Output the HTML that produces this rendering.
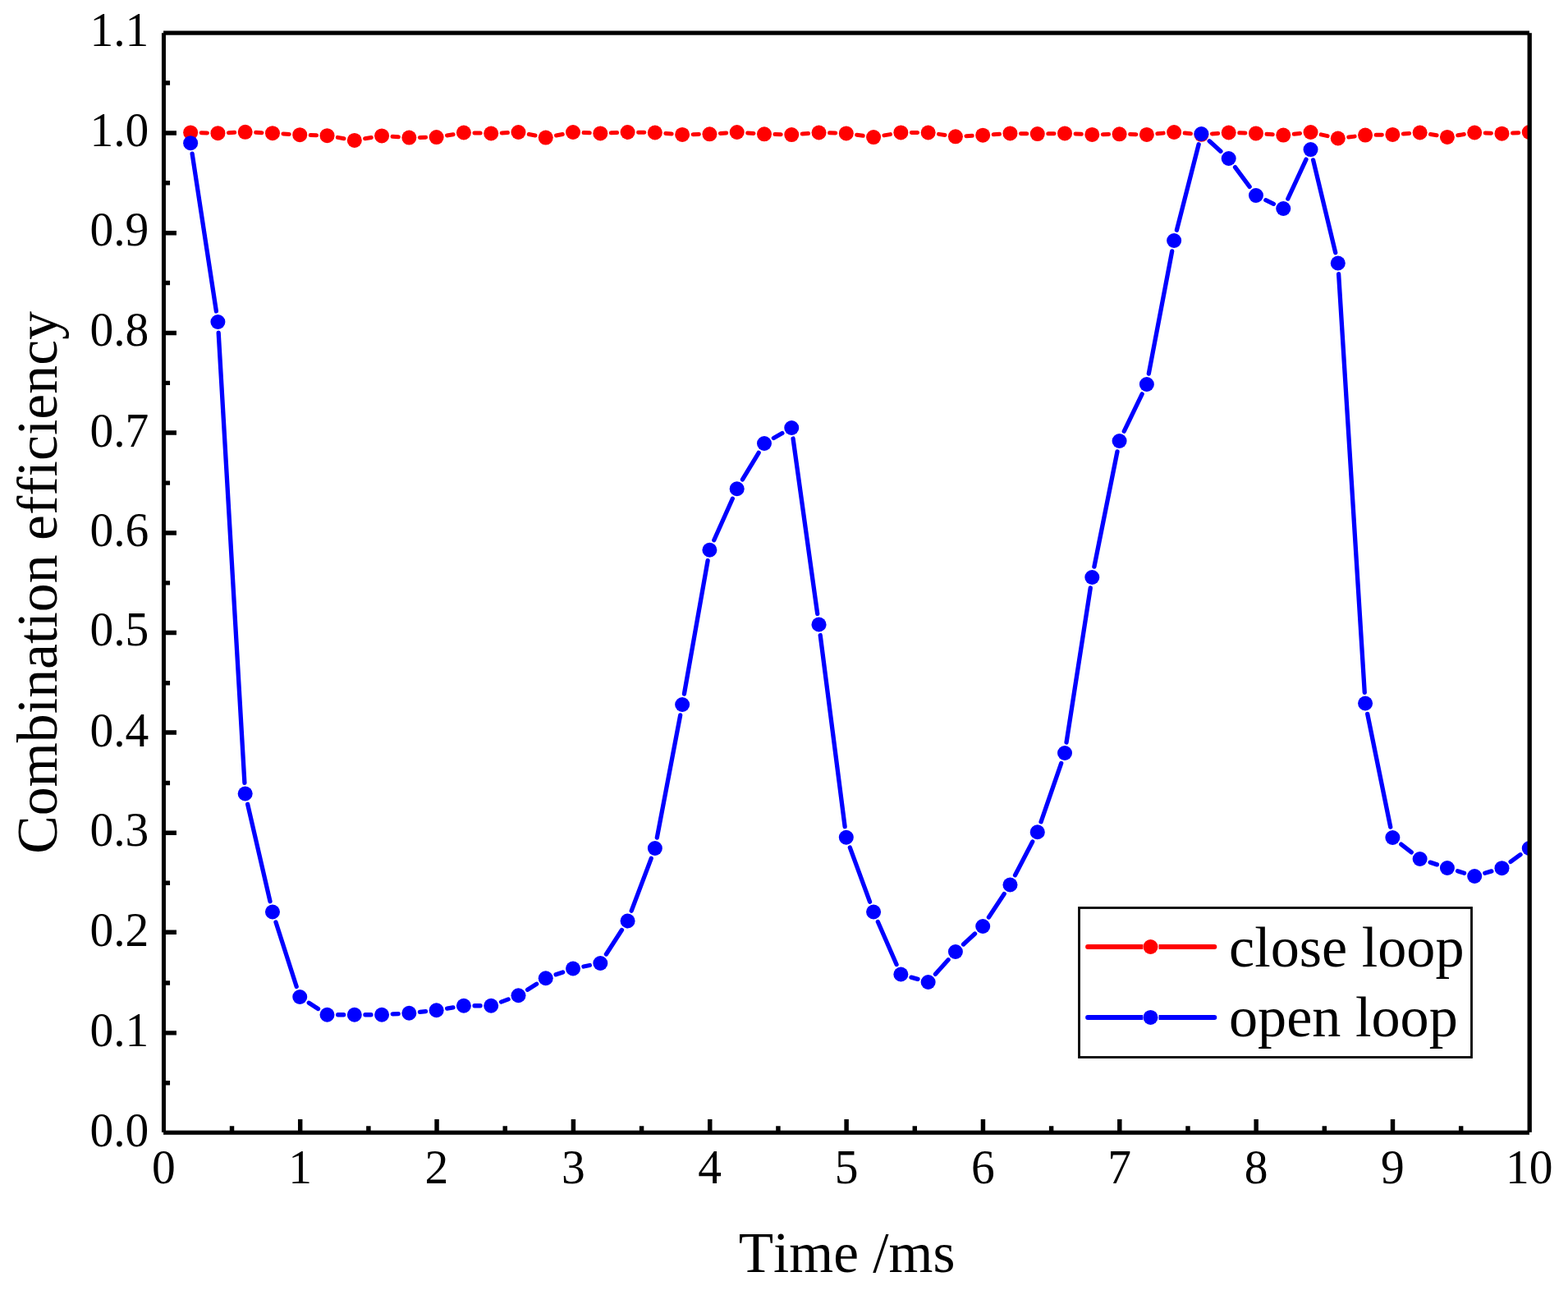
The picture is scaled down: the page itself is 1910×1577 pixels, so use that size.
<!DOCTYPE html>
<html lang="en">
<head>
<meta charset="utf-8">
<title>Combination efficiency vs Time</title>
<style>
html,body{margin:0;padding:0;background:#fff;}
body{width:1910px;height:1577px;}
svg{display:block;}
text{font-kerning:none;}
</style>
</head>
<body>
<svg width="1910" height="1577" viewBox="0 0 1910 1577" role="img" aria-label="Combination efficiency versus time for close loop and open loop">
<rect x="0" y="0" width="1910" height="1577" fill="#fff"/>
<path d="M365.70 1379.00V1363.10M532.05 1379.00V1363.10M698.40 1379.00V1363.10M864.75 1379.00V1363.10M1031.10 1379.00V1363.10M1197.45 1379.00V1363.10M1363.80 1379.00V1363.10M1530.15 1379.00V1363.10M1696.50 1379.00V1363.10M282.52 1379.00V1371.20M448.88 1379.00V1371.20M615.23 1379.00V1371.20M781.58 1379.00V1371.20M947.92 1379.00V1371.20M1114.27 1379.00V1371.20M1280.62 1379.00V1371.20M1446.97 1379.00V1371.20M1613.32 1379.00V1371.20M1779.67 1379.00V1371.20M199.45 1257.86H214.95M199.45 1135.29H214.95M199.45 1014.32H214.95M199.45 892.05H214.95M199.45 770.48H214.95M199.45 649.01H214.95M199.45 526.94H214.95M199.45 405.47H214.95M199.45 283.70H214.95M199.45 161.93H214.95M199.45 1318.75H207.05M199.45 1196.98H207.05M199.45 1075.21H207.05M199.45 953.44H207.05M199.45 831.67H207.05M199.45 709.89H207.05M199.45 588.12H207.05M199.45 466.36H207.05M199.45 344.59H207.05M199.45 222.82H207.05M199.45 101.05H207.05" fill="none" stroke="#000" stroke-width="5.45"/>
<clipPath id="pc"><rect x="199.45" y="39.90" width="1663.90" height="1339.10"/></clipPath>
<g clip-path="url(#pc)">
<path d="M245.12 161.71L252.41 161.89M278.39 161.65L285.70 161.35M311.67 161.35L318.97 161.65M344.94 162.98L352.26 163.42M378.23 164.59L385.52 164.81M411.33 167.39L418.98 168.71M444.62 168.78L452.25 167.52M478.05 166.26L485.38 166.74M511.35 167.40L518.63 167.30M544.45 164.94L552.09 163.66M577.90 161.89L585.19 162.11M611.17 161.91L618.48 161.59M644.22 163.53L651.99 165.07M677.49 165.07L685.27 163.53M711.01 161.55L718.31 161.85M744.29 161.85L751.59 161.55M777.57 161.20L784.86 161.30M810.82 162.44L818.17 162.96M844.13 163.67L851.41 163.53M877.38 162.40L884.72 161.90M910.66 161.90L918.00 162.40M943.96 163.61L951.25 163.79M977.20 163.09L984.56 162.51M1010.52 161.85L1017.80 162.05M1043.67 164.22L1051.21 165.28M1076.89 164.91L1084.54 163.59M1110.36 161.44L1117.63 161.46M1143.50 163.36L1151.05 164.44M1176.90 165.68L1184.20 165.32M1210.16 163.80L1217.50 163.30M1243.47 162.67L1250.75 162.83M1276.74 162.83L1284.03 162.67M1310.01 162.99L1317.32 163.31M1343.30 163.67L1350.58 163.53M1376.58 163.53L1383.86 163.67M1409.81 162.77L1417.19 162.13M1443.09 162.09L1450.46 162.71M1476.38 162.90L1483.72 162.40M1509.69 161.85L1516.97 162.05M1542.94 163.26L1550.28 163.74M1576.17 163.20L1583.60 162.40M1609.21 163.86L1617.12 165.64M1642.72 166.99L1650.17 166.11M1676.08 164.33L1683.36 164.17M1709.33 162.96L1716.67 162.44M1742.47 163.58L1750.08 164.82M1775.75 164.82L1783.36 163.58M1809.19 161.97L1816.48 162.23M1842.46 162.04L1849.77 161.66" fill="none" stroke="#ff0000" stroke-width="5.00" stroke-linecap="round"/>
<circle cx="232.13" cy="161.40" r="9.00" fill="#ff0000"/>
<circle cx="265.41" cy="162.20" r="9.00" fill="#ff0000"/>
<circle cx="298.68" cy="160.80" r="9.00" fill="#ff0000"/>
<circle cx="331.96" cy="162.20" r="9.00" fill="#ff0000"/>
<circle cx="365.24" cy="164.20" r="9.00" fill="#ff0000"/>
<circle cx="398.52" cy="165.20" r="9.00" fill="#ff0000"/>
<circle cx="431.80" cy="170.90" r="9.00" fill="#ff0000"/>
<circle cx="465.07" cy="165.40" r="9.00" fill="#ff0000"/>
<circle cx="498.35" cy="167.60" r="9.00" fill="#ff0000"/>
<circle cx="531.63" cy="167.10" r="9.00" fill="#ff0000"/>
<circle cx="564.91" cy="161.50" r="9.00" fill="#ff0000"/>
<circle cx="598.19" cy="162.50" r="9.00" fill="#ff0000"/>
<circle cx="631.46" cy="161.00" r="9.00" fill="#ff0000"/>
<circle cx="664.74" cy="167.60" r="9.00" fill="#ff0000"/>
<circle cx="698.02" cy="161.00" r="9.00" fill="#ff0000"/>
<circle cx="731.30" cy="162.40" r="9.00" fill="#ff0000"/>
<circle cx="764.58" cy="161.00" r="9.00" fill="#ff0000"/>
<circle cx="797.85" cy="161.50" r="9.00" fill="#ff0000"/>
<circle cx="831.13" cy="163.90" r="9.00" fill="#ff0000"/>
<circle cx="864.41" cy="163.30" r="9.00" fill="#ff0000"/>
<circle cx="897.69" cy="161.00" r="9.00" fill="#ff0000"/>
<circle cx="930.97" cy="163.30" r="9.00" fill="#ff0000"/>
<circle cx="964.24" cy="164.10" r="9.00" fill="#ff0000"/>
<circle cx="997.52" cy="161.50" r="9.00" fill="#ff0000"/>
<circle cx="1030.80" cy="162.40" r="9.00" fill="#ff0000"/>
<circle cx="1064.08" cy="167.10" r="9.00" fill="#ff0000"/>
<circle cx="1097.36" cy="161.40" r="9.00" fill="#ff0000"/>
<circle cx="1130.63" cy="161.50" r="9.00" fill="#ff0000"/>
<circle cx="1163.91" cy="166.30" r="9.00" fill="#ff0000"/>
<circle cx="1197.19" cy="164.70" r="9.00" fill="#ff0000"/>
<circle cx="1230.47" cy="162.40" r="9.00" fill="#ff0000"/>
<circle cx="1263.75" cy="163.10" r="9.00" fill="#ff0000"/>
<circle cx="1297.02" cy="162.40" r="9.00" fill="#ff0000"/>
<circle cx="1330.30" cy="163.90" r="9.00" fill="#ff0000"/>
<circle cx="1363.58" cy="163.30" r="9.00" fill="#ff0000"/>
<circle cx="1396.86" cy="163.90" r="9.00" fill="#ff0000"/>
<circle cx="1430.14" cy="161.00" r="9.00" fill="#ff0000"/>
<circle cx="1463.41" cy="163.80" r="9.00" fill="#ff0000"/>
<circle cx="1496.69" cy="161.50" r="9.00" fill="#ff0000"/>
<circle cx="1529.97" cy="162.40" r="9.00" fill="#ff0000"/>
<circle cx="1563.25" cy="164.60" r="9.00" fill="#ff0000"/>
<circle cx="1596.53" cy="161.00" r="9.00" fill="#ff0000"/>
<circle cx="1629.80" cy="168.50" r="9.00" fill="#ff0000"/>
<circle cx="1663.08" cy="164.60" r="9.00" fill="#ff0000"/>
<circle cx="1696.36" cy="163.90" r="9.00" fill="#ff0000"/>
<circle cx="1729.64" cy="161.50" r="9.00" fill="#ff0000"/>
<circle cx="1762.92" cy="166.90" r="9.00" fill="#ff0000"/>
<circle cx="1796.19" cy="161.50" r="9.00" fill="#ff0000"/>
<circle cx="1829.47" cy="162.70" r="9.00" fill="#ff0000"/>
<circle cx="1862.75" cy="161.00" r="9.00" fill="#ff0000"/>
<path d="M234.11 187.20L263.42 379.00M266.17 405.13L297.92 953.37M301.64 979.31L329.00 1097.69M335.99 1123.02L361.21 1201.48M376.25 1221.19L387.51 1228.56M411.67 1235.75L418.65 1235.75M444.95 1235.75L451.92 1235.75M478.20 1234.96L485.23 1234.54M511.43 1232.37L518.55 1231.63M544.60 1228.11L551.93 1226.89M578.06 1224.75L585.04 1224.75M610.50 1220.13L619.15 1216.87M642.58 1205.23L653.62 1198.27M677.14 1186.87L685.62 1183.88M710.93 1176.98L718.39 1175.52M738.43 1161.96L757.44 1132.54M769.20 1109.19L793.23 1045.31M800.31 1020.08L828.68 870.92M833.42 845.05L862.12 682.70M869.77 657.74L892.32 607.26M904.47 583.99L924.18 551.26M942.39 533.48L952.82 527.52M966.05 534.02L995.71 747.48M999.20 773.54L1029.13 1006.71M1035.33 1032.10L1059.55 1098.15M1069.35 1122.55L1092.08 1174.45M1110.00 1190.11L1117.99 1192.39M1139.43 1186.22L1155.12 1168.78M1173.53 1150.04L1187.57 1136.96M1204.43 1117.02L1223.23 1088.48M1236.52 1065.82L1257.70 1024.93M1268.04 1000.82L1292.73 929.43M1299.04 904.01L1328.28 715.99M1332.89 690.11L1361.00 549.89M1369.29 525.16L1391.15 479.84M1399.31 455.08L1427.68 305.92M1433.40 280.26L1460.15 175.74M1473.18 171.80L1486.92 184.20M1504.51 203.57L1522.15 227.43M1541.82 243.70L1551.40 248.30M1568.77 242.07L1591.00 194.03M1599.60 194.89L1626.73 307.71M1630.62 333.62L1662.27 843.38M1665.70 869.39L1693.74 1007.11M1706.72 1028.10L1719.28 1037.90M1742.12 1050.13L1750.43 1052.87M1775.51 1060.78L1783.60 1063.22M1808.81 1063.29L1816.86 1060.91M1840.11 1049.47L1852.11 1040.73" fill="none" stroke="#0000ff" stroke-width="5.30" stroke-linecap="round"/>
<circle cx="232.13" cy="174.20" r="9.00" fill="#0000ff"/>
<circle cx="265.41" cy="392.00" r="9.00" fill="#0000ff"/>
<circle cx="298.68" cy="966.50" r="9.00" fill="#0000ff"/>
<circle cx="331.96" cy="1110.50" r="9.00" fill="#0000ff"/>
<circle cx="365.24" cy="1214.00" r="9.00" fill="#0000ff"/>
<circle cx="398.52" cy="1235.75" r="9.00" fill="#0000ff"/>
<circle cx="431.80" cy="1235.75" r="9.00" fill="#0000ff"/>
<circle cx="465.07" cy="1235.75" r="9.00" fill="#0000ff"/>
<circle cx="498.35" cy="1233.75" r="9.00" fill="#0000ff"/>
<circle cx="531.63" cy="1230.25" r="9.00" fill="#0000ff"/>
<circle cx="564.91" cy="1224.75" r="9.00" fill="#0000ff"/>
<circle cx="598.19" cy="1224.75" r="9.00" fill="#0000ff"/>
<circle cx="631.46" cy="1212.25" r="9.00" fill="#0000ff"/>
<circle cx="664.74" cy="1191.25" r="9.00" fill="#0000ff"/>
<circle cx="698.02" cy="1179.50" r="9.00" fill="#0000ff"/>
<circle cx="731.30" cy="1173.00" r="9.00" fill="#0000ff"/>
<circle cx="764.58" cy="1121.50" r="9.00" fill="#0000ff"/>
<circle cx="797.85" cy="1033.00" r="9.00" fill="#0000ff"/>
<circle cx="831.13" cy="858.00" r="9.00" fill="#0000ff"/>
<circle cx="864.41" cy="669.75" r="9.00" fill="#0000ff"/>
<circle cx="897.69" cy="595.25" r="9.00" fill="#0000ff"/>
<circle cx="930.97" cy="540.00" r="9.00" fill="#0000ff"/>
<circle cx="964.24" cy="521.00" r="9.00" fill="#0000ff"/>
<circle cx="997.52" cy="760.50" r="9.00" fill="#0000ff"/>
<circle cx="1030.80" cy="1019.75" r="9.00" fill="#0000ff"/>
<circle cx="1064.08" cy="1110.50" r="9.00" fill="#0000ff"/>
<circle cx="1097.36" cy="1186.50" r="9.00" fill="#0000ff"/>
<circle cx="1130.63" cy="1196.00" r="9.00" fill="#0000ff"/>
<circle cx="1163.91" cy="1159.00" r="9.00" fill="#0000ff"/>
<circle cx="1197.19" cy="1128.00" r="9.00" fill="#0000ff"/>
<circle cx="1230.47" cy="1077.50" r="9.00" fill="#0000ff"/>
<circle cx="1263.75" cy="1013.25" r="9.00" fill="#0000ff"/>
<circle cx="1297.02" cy="917.00" r="9.00" fill="#0000ff"/>
<circle cx="1330.30" cy="703.00" r="9.00" fill="#0000ff"/>
<circle cx="1363.58" cy="537.00" r="9.00" fill="#0000ff"/>
<circle cx="1396.86" cy="468.00" r="9.00" fill="#0000ff"/>
<circle cx="1430.14" cy="293.00" r="9.00" fill="#0000ff"/>
<circle cx="1463.41" cy="163.00" r="9.00" fill="#0000ff"/>
<circle cx="1496.69" cy="193.00" r="9.00" fill="#0000ff"/>
<circle cx="1529.97" cy="238.00" r="9.00" fill="#0000ff"/>
<circle cx="1563.25" cy="254.00" r="9.00" fill="#0000ff"/>
<circle cx="1596.53" cy="182.10" r="9.00" fill="#0000ff"/>
<circle cx="1629.80" cy="320.50" r="9.00" fill="#0000ff"/>
<circle cx="1663.08" cy="856.50" r="9.00" fill="#0000ff"/>
<circle cx="1696.36" cy="1020.00" r="9.00" fill="#0000ff"/>
<circle cx="1729.64" cy="1046.00" r="9.00" fill="#0000ff"/>
<circle cx="1762.92" cy="1057.00" r="9.00" fill="#0000ff"/>
<circle cx="1796.19" cy="1067.00" r="9.00" fill="#0000ff"/>
<circle cx="1829.47" cy="1057.20" r="9.00" fill="#0000ff"/>
<circle cx="1862.75" cy="1033.00" r="9.00" fill="#0000ff"/>
</g>
<g fill="#000">
<rect x="196.95" y="40.20" width="5.00" height="1338.60"/>
<rect x="1860.55" y="40.20" width="5.30" height="1338.60"/>
<rect x="199.05" y="37.50" width="1663.90" height="5.20"/>
<rect x="199.05" y="1376.65" width="1663.90" height="5.15"/>
</g>
<g font-family="'Liberation Serif', serif" fill="#000">
<text transform="translate(199.25 1441.00) scale(1 1.0220)" font-size="57.50" text-anchor="middle">0</text>
<text transform="translate(365.60 1441.00) scale(1 1.0220)" font-size="57.50" text-anchor="middle">1</text>
<text transform="translate(531.95 1441.00) scale(1 1.0220)" font-size="57.50" text-anchor="middle">2</text>
<text transform="translate(698.30 1441.00) scale(1 1.0220)" font-size="57.50" text-anchor="middle">3</text>
<text transform="translate(864.65 1441.00) scale(1 1.0220)" font-size="57.50" text-anchor="middle">4</text>
<text transform="translate(1031.00 1441.00) scale(1 1.0220)" font-size="57.50" text-anchor="middle">5</text>
<text transform="translate(1197.35 1441.00) scale(1 1.0220)" font-size="57.50" text-anchor="middle">6</text>
<text transform="translate(1363.70 1441.00) scale(1 1.0220)" font-size="57.50" text-anchor="middle">7</text>
<text transform="translate(1530.05 1441.00) scale(1 1.0220)" font-size="57.50" text-anchor="middle">8</text>
<text transform="translate(1696.40 1441.00) scale(1 1.0220)" font-size="57.50" text-anchor="middle">9</text>
<text transform="translate(1862.75 1441.00) scale(1 1.0220)" font-size="57.50" text-anchor="middle">10</text>
<text transform="translate(181.30 1396.00) scale(1 1.0220)" font-size="57.50" text-anchor="end">0.0</text>
<text transform="translate(181.30 1274.00) scale(1 1.0220)" font-size="57.50" text-anchor="end">0.1</text>
<text transform="translate(181.30 1152.00) scale(1 1.0220)" font-size="57.50" text-anchor="end">0.2</text>
<text transform="translate(181.30 1030.00) scale(1 1.0220)" font-size="57.50" text-anchor="end">0.3</text>
<text transform="translate(181.30 909.00) scale(1 1.0220)" font-size="57.50" text-anchor="end">0.4</text>
<text transform="translate(181.30 786.00) scale(1 1.0220)" font-size="57.50" text-anchor="end">0.5</text>
<text transform="translate(181.30 665.00) scale(1 1.0220)" font-size="57.50" text-anchor="end">0.6</text>
<text transform="translate(181.30 544.00) scale(1 1.0220)" font-size="57.50" text-anchor="end">0.7</text>
<text transform="translate(181.30 421.00) scale(1 1.0220)" font-size="57.50" text-anchor="end">0.8</text>
<text transform="translate(181.30 299.00) scale(1 1.0220)" font-size="57.50" text-anchor="end">0.9</text>
<text transform="translate(181.30 178.00) scale(1 1.0220)" font-size="57.50" text-anchor="end">1.0</text>
<text transform="translate(181.30 56.00) scale(1 1.0220)" font-size="57.50" text-anchor="end">1.1</text>
<text transform="translate(1031.50 1549.10)" font-size="69.30" text-anchor="middle">Time /ms</text>
<text transform="translate(69.00 709.40) rotate(-90)" font-size="69.80" text-anchor="middle">Combination efficiency</text>
</g>
<rect x="1314.50" y="1105.50" width="478.00" height="182.00" fill="#fff" stroke="#000" stroke-width="2.80"/>
<path d="M1325.10 1153.00H1392.20M1411.50 1153.00H1479.30" stroke="#ff0000" stroke-width="6.00" fill="none"/>
<circle cx="1325.10" cy="1153.00" r="3.00" fill="#ff0000"/><circle cx="1479.30" cy="1153.00" r="3.00" fill="#ff0000"/>
<circle cx="1401.50" cy="1153.00" r="9.00" fill="#ff0000"/>
<g font-family="'Liberation Serif', serif" fill="#000"><text transform="translate(1497.00 1176.60)" font-size="70.20">close loop</text></g>
<path d="M1325.10 1238.90H1392.20M1411.50 1238.90H1479.30" stroke="#0000ff" stroke-width="6.00" fill="none"/>
<circle cx="1325.10" cy="1238.90" r="3.00" fill="#0000ff"/><circle cx="1479.30" cy="1238.90" r="3.00" fill="#0000ff"/>
<circle cx="1401.50" cy="1238.90" r="9.00" fill="#0000ff"/>
<g font-family="'Liberation Serif', serif" fill="#000"><text transform="translate(1497.00 1262.20)" font-size="70.20">open loop</text></g>
</svg>
</body>
</html>
